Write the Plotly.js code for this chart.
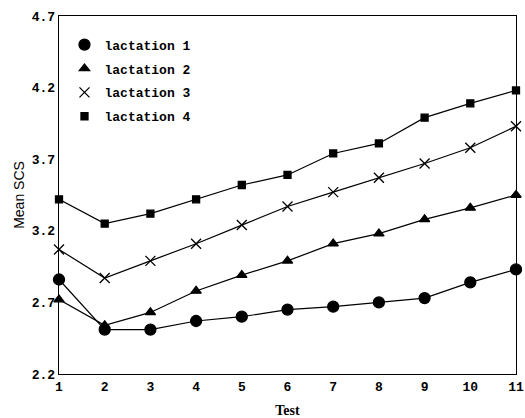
<!DOCTYPE html>
<html>
<head>
<meta charset="utf-8">
<script src="https://cdn.plot.ly/plotly-3.0.1.min.js"></script>
<style>html,body{margin:0;padding:0;background:#fff;}#chart{width:525px;height:418px;}</style>
</head>
<body>
<div id="chart"></div>
<script>
const tests = [1, 2, 3, 4, 5, 6, 7, 8, 9, 10, 11];
const lactation1 = [2.86, 2.51, 2.51, 2.57, 2.60, 2.65, 2.67, 2.70, 2.73, 2.84, 2.93];
const lactation2 = [2.72, 2.54, 2.63, 2.78, 2.89, 2.99, 3.11, 3.18, 3.28, 3.36, 3.45];
const lactation3 = [3.07, 2.87, 2.99, 3.11, 3.24, 3.37, 3.47, 3.57, 3.67, 3.78, 3.93];
const lactation4 = [3.42, 3.25, 3.32, 3.42, 3.52, 3.59, 3.74, 3.81, 3.99, 4.09, 4.18];
const seriesNames = ["lactation 1", "lactation 2", "lactation 3", "lactation 4"];
const yTicks = [2.2, 2.7, 3.2, 3.7, 4.2, 4.7];

const series = [lactation1, lactation2, lactation3, lactation4];
const symbols = ["circle", "triangle-up", "x-thin-open", "square"];
const sizes = [11, 9, 10, 7];

const traces = series.map((ys, i) => ({
  x: tests, y: ys, name: seriesNames[i], type: "scatter", mode: "lines+markers",
  showlegend: false,
  line: {color: "#000", width: 1.2},
  marker: {symbol: symbols[i], size: sizes[i], color: "#000", line: {color: "#000", width: 1.3}},
  cliponaxis: false
}));
// legend-only entries (marker without line, as in the original key)
series.forEach((ys, i) => traces.push({
  x: [null], y: [null], name: seriesNames[i], type: "scatter", mode: "markers",
  legendgroup: "g" + i, showlegend: true,
  marker: {symbol: symbols[i], size: sizes[i], color: "#000", line: {color: "#000", width: 1.3}}
}));

const layout = {
  width: 525, height: 418,
  margin: {l: 59, r: 9, t: 16, b: 44},
  paper_bgcolor: "#fff", plot_bgcolor: "#fff",
  showlegend: true,
  legend: {x: 0.012, y: 0.962, xanchor: "left", yanchor: "top", bgcolor: "rgba(0,0,0,0)",
    font: {family: "Liberation Mono, DejaVu Sans Mono, monospace", size: 13, color: "#000", weight: "bold"},
    tracegroupgap: 4, itemwidth: 30},
  xaxis: {range: [1, 11], tickvals: tests, ticktext: tests.map(String), showgrid: false, zeroline: false,
    showline: true, linecolor: "#000", linewidth: 1.3, mirror: true, ticks: "", ticklabeloverflow: "allow",
    tickfont: {family: "Liberation Mono, monospace", size: 13, color: "#000", weight: "bold"},
    title: {text: "<b>Test</b>", font: {family: "Liberation Serif, serif", size: 14, color: "#000"}, standoff: 12}},
  yaxis: {range: [2.2, 4.7], tickvals: yTicks, ticktext: yTicks.map(v => v.toFixed(1)), showgrid: false, zeroline: false,
    showline: true, linecolor: "#000", linewidth: 1.3, mirror: true, ticks: "",
    tickfont: {family: "Liberation Mono, monospace", size: 13, color: "#000", weight: "bold"},
    title: {text: "Mean SCS", font: {family: "Liberation Sans, sans-serif", size: 14, color: "#000"}, standoff: 3}}
};

Plotly.newPlot("chart", traces, layout, {displayModeBar: false, staticPlot: true});
</script>
</body>
</html>
